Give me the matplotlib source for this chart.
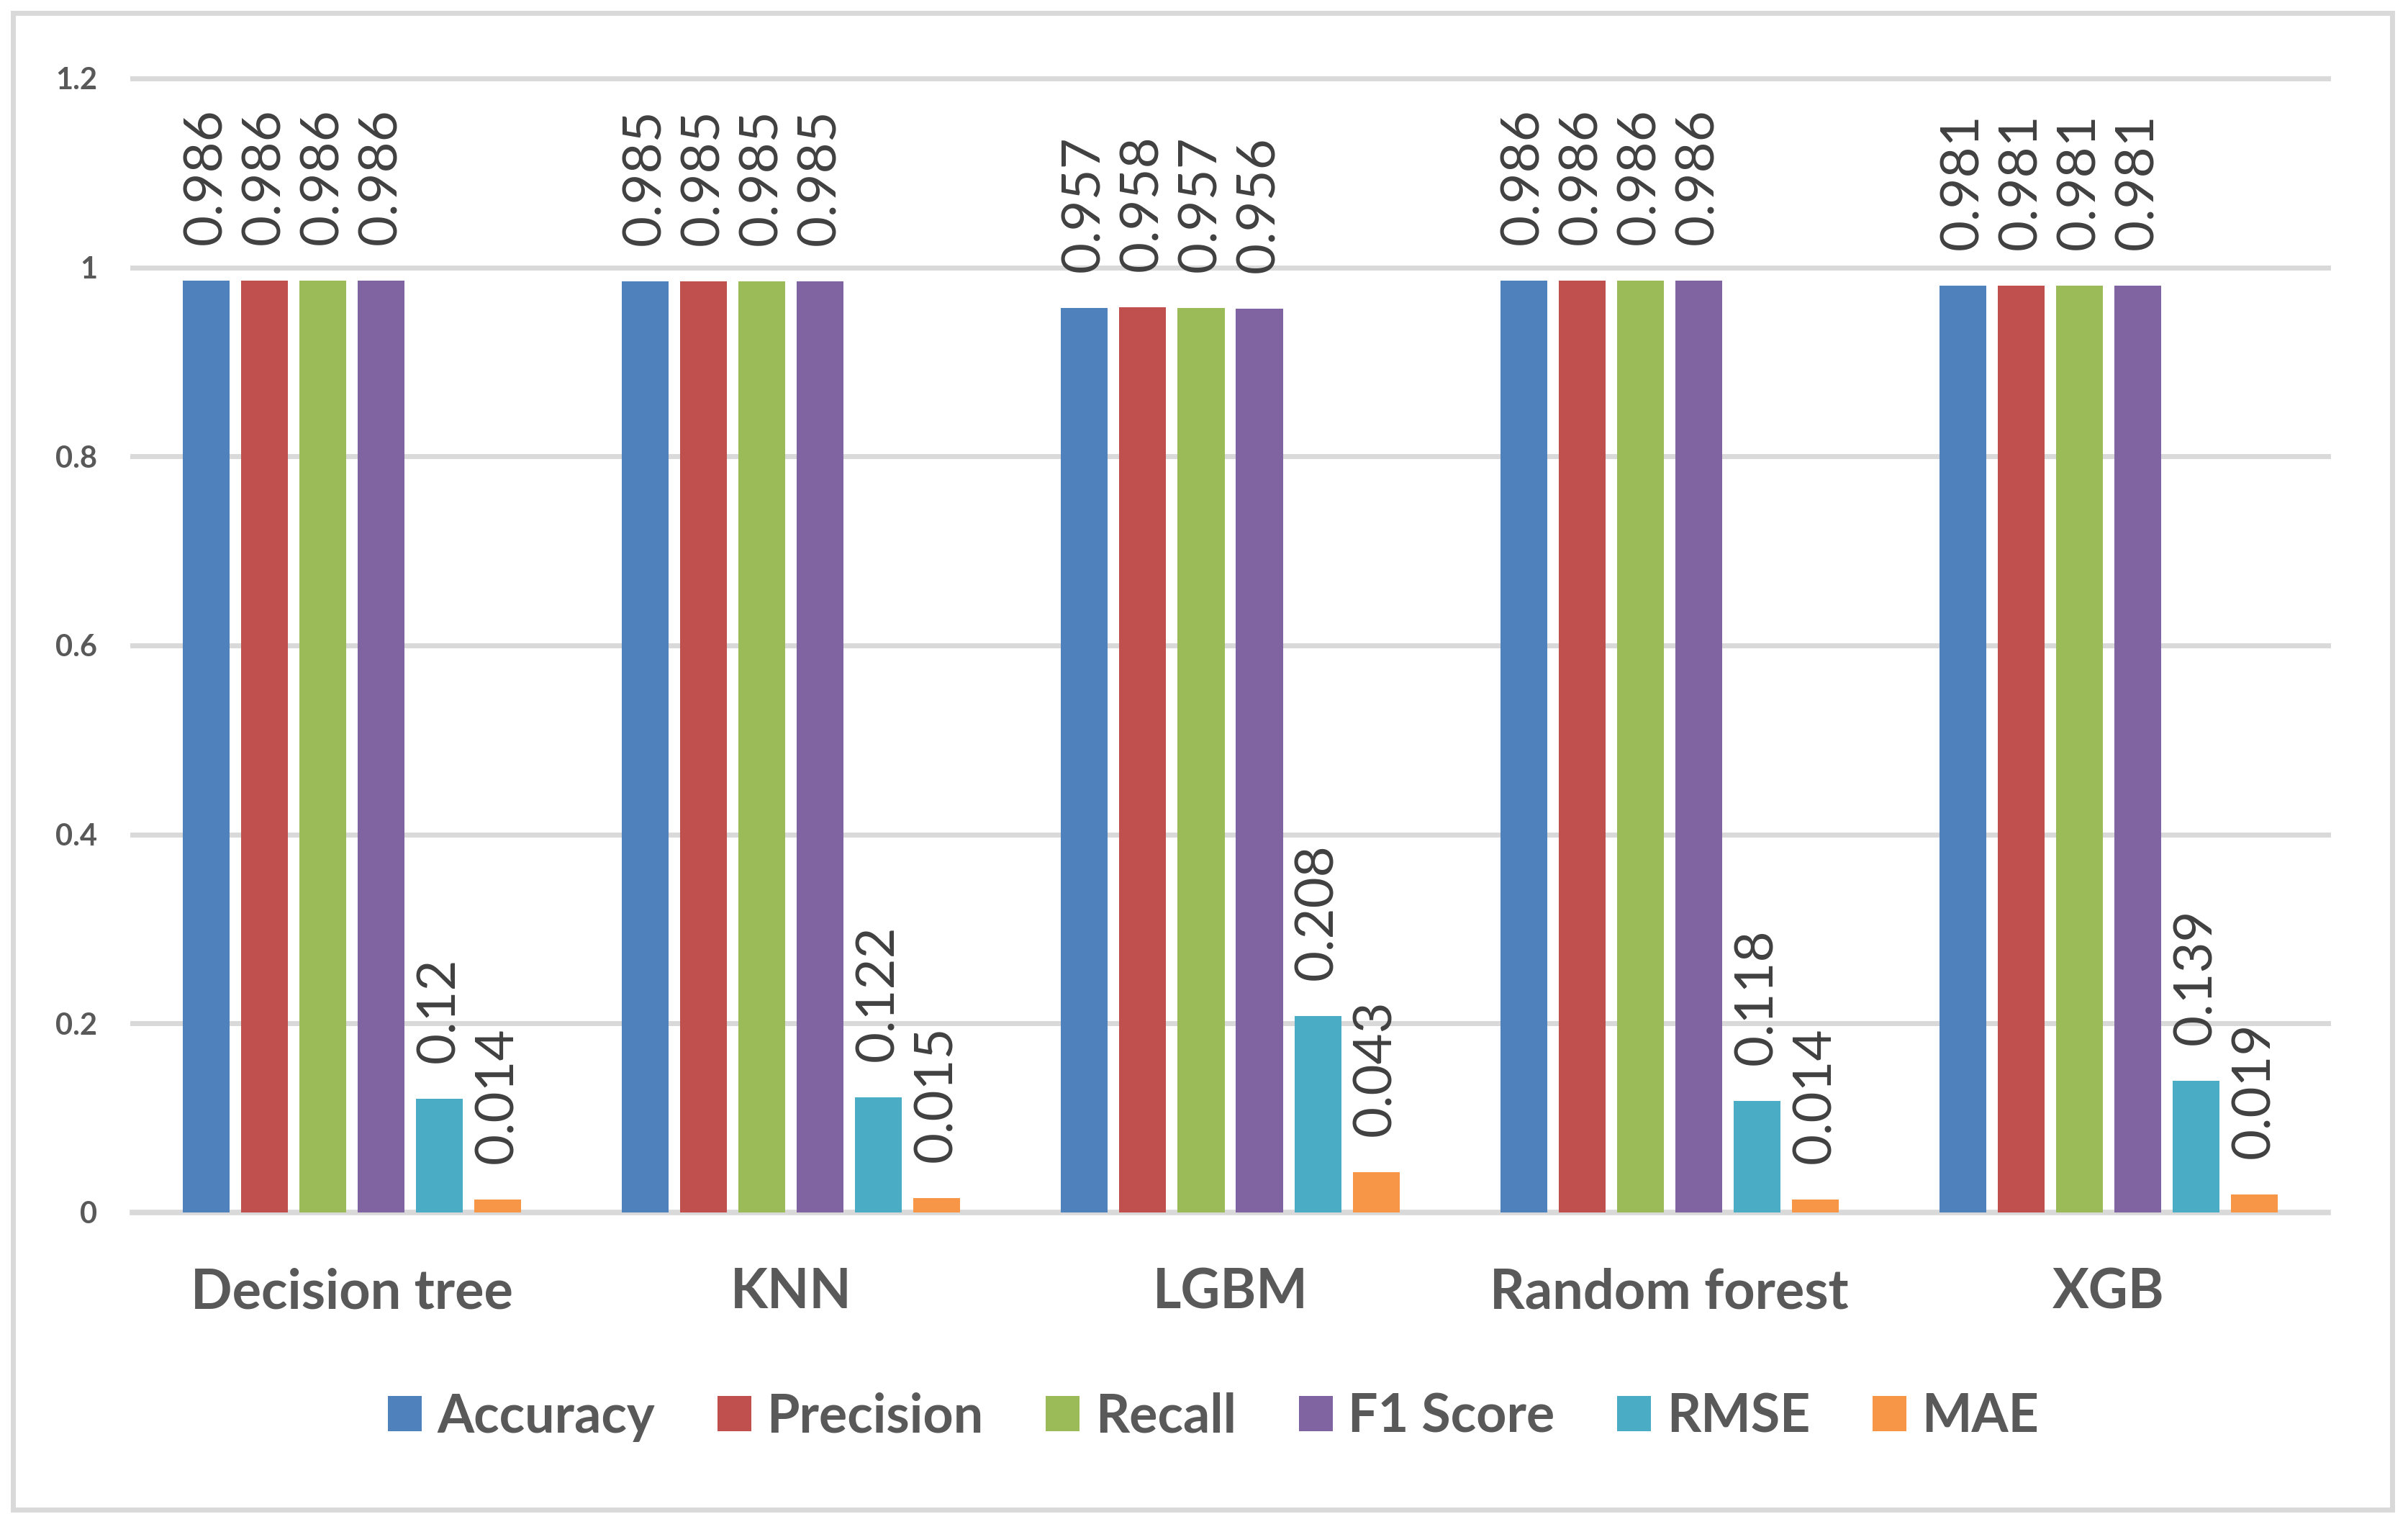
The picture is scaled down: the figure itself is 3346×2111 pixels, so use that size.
import matplotlib
matplotlib.use("Agg")
import matplotlib.pyplot as plt
from matplotlib.patches import Rectangle
import numpy as np

plt.rcParams['font.family'] = ['Lato', 'DejaVu Sans']

categories = ["Decision tree", "KNN", "LGBM", "Random forest", "XGB"]
metrics = ["Accuracy", "Precision", "Recall", "F1 Score", "RMSE", "MAE"]
accuracy = [0.986, 0.985, 0.957, 0.986, 0.981]
precision = [0.986, 0.985, 0.958, 0.986, 0.981]
recall = [0.986, 0.985, 0.957, 0.986, 0.981]
f1_score = [0.986, 0.985, 0.956, 0.986, 0.981]
rmse = [0.12, 0.122, 0.208, 0.118, 0.139]
mae = [0.014, 0.015, 0.043, 0.014, 0.019]
series = [accuracy, precision, recall, f1_score, rmse, mae]
colors = ["#4F81BD", "#C0504D", "#9BBB59", "#8064A2", "#4BACC6", "#F79646"]
yticks = [0, 0.2, 0.4, 0.6, 0.8, 1.0, 1.2]
ytick_labels = ["0", "0.2", "0.4", "0.6", "0.8", "1", "1.2"]

W, H = 3346, 2111
fig = plt.figure(figsize=(W / 100, H / 100), dpi=100)
fig.patch.set_facecolor("white")

# outer chart frame
fig.patches.append(Rectangle((18 / W, 1 - 2098 / H), (3324 - 18) / W, (2098 - 18) / H,
                             transform=fig.transFigure, fill=False,
                             edgecolor="#D9D9D9", linewidth=5, zorder=0))

ax = fig.add_axes([184 / W, 1 - 1685 / H, (3235 - 184) / W, (1685 - 109) / H])
ax.set_xlim(-0.5, len(categories) - 0.5)
ax.set_ylim(0, 1.2)
for s in ax.spines.values():
    s.set_visible(False)

grid_color = "#D9D9D9"
for t in yticks:
    ax.axhline(t, color=grid_color, linewidth=5 if t > 0 else 5.5, zorder=0, clip_on=False)

x = np.arange(len(categories))
slot = 0.1328
bw = 0.1066
containers = []
for i, (vals, col, name) in enumerate(zip(series, colors, metrics)):
    bars = ax.bar(x + (i - 2.5) * slot, vals, width=bw, color=col, label=name, zorder=2)
    containers.append(bars)
    ax.bar_label(bars, labels=[f"{v:g}" for v in vals], rotation=90, padding=36,
                 fontsize=53.5, color="#404040", zorder=3)

ax.set_yticks(yticks)
ax.set_yticklabels(ytick_labels, fontsize=30, fontweight="bold", color="#595959")
ax.tick_params(axis="y", length=0, pad=35)

ax.set_xticks(x)
ax.set_xticklabels(categories, fontsize=54.5, fontweight="bold", color="#595959")
ax.tick_params(axis="x", length=0, pad=95.8)
for lbl in ax.get_xticklabels():
    lbl.set_verticalalignment("baseline")

leg = fig.legend(handles=containers, labels=metrics, ncol=6, loc="center",
                 bbox_to_anchor=(1686 / W, 1 - 1969 / H), frameon=False,
                 prop={"size": 53, "weight": "bold"},
                 handlelength=0.64, handleheight=0.64, handletextpad=0.29,
                 columnspacing=1.18, borderaxespad=0, borderpad=0)
for t in leg.get_texts():
    t.set_color("#595959")

fig.savefig("out.png", dpi=100, facecolor="white")
